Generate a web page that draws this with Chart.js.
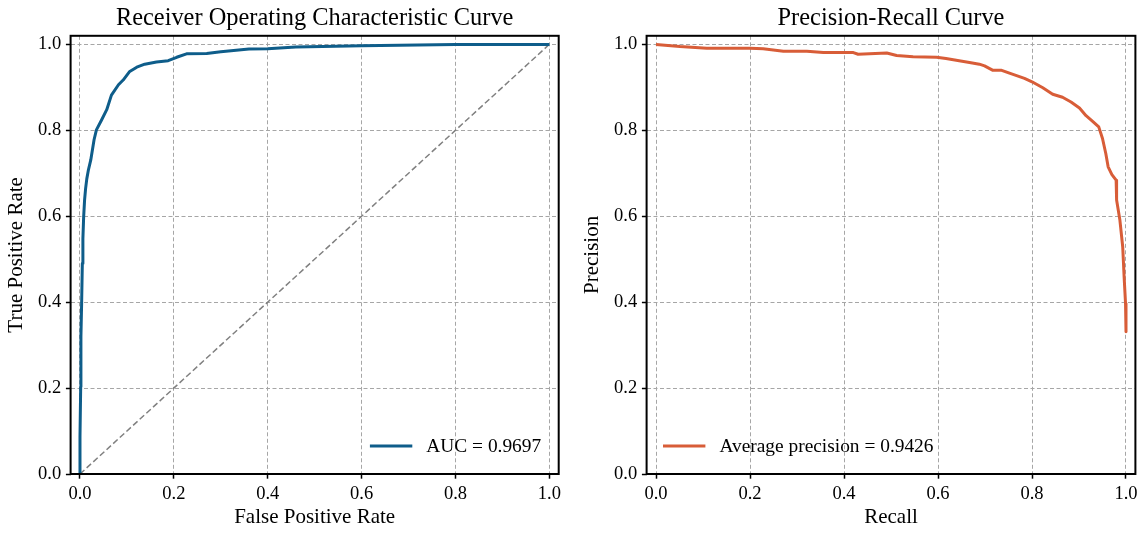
<!DOCTYPE html>
<html>
<head>
<meta charset="utf-8">
<title>ROC and PR curves</title>
<script src="https://cdn.jsdelivr.net/npm/chart.js@4.4.1/dist/chart.umd.min.js"></script>
<style>
  body { margin: 0; background: #ffffff; }
  .panel { position: absolute; top: 0; width: 573px; height: 534px; }
</style>
</head>
<body>
<div class="panel" style="left:0"><canvas id="roc"></canvas></div>
<div class="panel" style="left:573px"><canvas id="pr"></canvas></div>
<script>
// ROC curve
const rocFpr = [0, 0.000, 0.0015, 0.002, 0.0035, 0.005, 0.0062, 0.0078, 0.0098, 0.012, 0.0145, 0.018, 0.023,
  0.030, 0.035, 0.046, 0.057, 0.067, 0.082, 0.092, 0.106, 0.121, 0.138, 0.163, 0.188, 0.206,
  0.227, 0.270, 0.300, 0.360, 0.400, 0.460, 0.600, 0.760, 0.800, 1.000];
const rocTpr = [0, 0.087, 0.203, 0.320, 0.397, 0.490, 0.548, 0.598, 0.638, 0.665, 0.687, 0.708, 0.731,
  0.778, 0.801, 0.824, 0.848, 0.882, 0.906, 0.917, 0.937, 0.947, 0.954, 0.959, 0.962, 0.970,
  0.978, 0.979, 0.983, 0.989, 0.990, 0.994, 0.997, 0.999, 1.000, 1.000];
const rocAuc = 0.9697;
const chanceX = [0, 1];
const chanceY = [0, 1];

// Precision-recall curve
const prRecall = [0.000, 0.051, 0.108, 0.200, 0.228, 0.271, 0.321, 0.356, 0.420, 0.430, 0.491,
  0.512, 0.547, 0.597, 0.617, 0.645, 0.667, 0.688, 0.699, 0.716, 0.734, 0.752, 0.784, 0.800,
  0.823, 0.844, 0.865, 0.883, 0.901, 0.915, 0.929, 0.942, 0.950, 0.957, 0.962, 0.970, 0.979,
  0.980, 0.987, 0.993, 0.996, 0.999, 1.000];
const prPrecision = [1.000, 0.995, 0.991, 0.991, 0.990, 0.984, 0.984, 0.981, 0.981, 0.977, 0.980,
  0.974, 0.971, 0.970, 0.967, 0.962, 0.958, 0.954, 0.950, 0.940, 0.940, 0.933, 0.921, 0.913,
  0.899, 0.884, 0.877, 0.866, 0.852, 0.834, 0.821, 0.808, 0.781, 0.746, 0.715, 0.697, 0.684,
  0.638, 0.591, 0.529, 0.459, 0.397, 0.331];
const avgPrecision = 0.9426;

const tickValues = [0, 0.2, 0.4, 0.6, 0.8, 1.0];

const FONT = "'Liberation Serif', 'Times New Roman', serif";

const toPoints = (xs, ys) => xs.map((x, i) => ({ x: x, y: ys[i] }));

// legend drawn inside the plot, like matplotlib's loc='lower right' / 'lower left'
const insideLegend = {
  id: 'insideLegend',
  afterDatasetsDraw(chart, args, opts) {
    const { ctx, chartArea } = chart;
    const ds = chart.data.datasets[0];
    ctx.save();
    ctx.font = opts.size + 'px ' + FONT;
    const w = ctx.measureText(ds.label).width;
    const y = chartArea.bottom - 28;
    let x0;
    if (opts.side === 'right') {
      x0 = chartArea.right - 17.5 - w - 14 - 42.4;
    } else {
      x0 = chartArea.left + 16.4;
    }
    ctx.strokeStyle = ds.borderColor;
    ctx.lineWidth = ds.borderWidth;
    ctx.beginPath();
    ctx.moveTo(x0, y);
    ctx.lineTo(x0 + 42.4, y);
    ctx.stroke();
    ctx.fillStyle = '#000';
    ctx.textBaseline = 'middle';
    ctx.textAlign = 'left';
    ctx.fillText(ds.label, x0 + 42.4 + 14, y + 0.5);
    ctx.restore();
  }
};

// full black frame round the axes
const spines = {
  id: 'spines',
  afterDraw(chart) {
    const { ctx, chartArea } = chart;
    ctx.save();
    ctx.strokeStyle = '#000';
    ctx.lineWidth = 2;
    ctx.strokeRect(chartArea.left, chartArea.top, chartArea.right - chartArea.left, chartArea.bottom - chartArea.top);
    ctx.restore();
  }
};

function axis(pos, min, max, label, titlePad, fitSize) {
  return {
    type: 'linear',
    position: pos,
    min: min,
    max: max,
    afterBuildTicks: s => { s.ticks = tickValues.map(v => ({ value: v })); },
    afterFit: s => {
      if (pos === 'bottom') s.height = fitSize; else s.width = fitSize;
      s.paddingLeft = 0; s.paddingRight = 0; s.paddingTop = 0; s.paddingBottom = 0;
    },
    ticks: {
      color: '#000',
      font: { family: FONT, size: 18.5 },
      padding: 4.7,
      maxRotation: 0,
      autoSkip: false,
      callback: v => Number(v).toFixed(1)
    },
    grid: {
      color: '#a6a6a6',
      lineWidth: 1,
      drawTicks: true,
      tickLength: 4.7,
      tickColor: '#000',
      tickWidth: 1.5
    },
    border: { display: false, dash: [4, 2.5] },
    title: {
      display: true,
      text: label,
      color: '#000',
      font: { family: FONT, size: 21, lineHeight: 1 },
      padding: titlePad
    }
  };
}

function makeChart(id, datasets, title, xLabel, yLabel, yTitlePad, yWidth, padRight, legendSide) {
  return new Chart(document.getElementById(id), {
    type: 'line',
    data: { datasets: datasets },
    options: {
      responsive: true,
      maintainAspectRatio: false,
      animation: false,
      parsing: true,
      layout: { padding: { left: 0, top: 0, right: padRight, bottom: 0 } },
      scales: {
        x: axis('bottom', -0.02, 1.02, xLabel, { top: 0, bottom: 6 }, 60),
        y: axis('left', 0, 1.02, yLabel, { top: yTitlePad, bottom: 0 }, yWidth)
      },
      plugins: {
        legend: { display: false },
        tooltip: { enabled: false },
        title: {
          display: true,
          text: title,
          color: '#000',
          fullSize: false,
          font: { family: FONT, size: 24.4, weight: 'normal', lineHeight: 1 },
          padding: { top: 6.2, bottom: 5.2 }
        },
        insideLegend: { side: legendSide, size: 19.4 }
      }
    },
    plugins: [insideLegend, spines]
  });
}

makeChart('roc', [
  {
    label: 'AUC = ' + rocAuc.toFixed(4),
    data: toPoints(rocFpr, rocTpr),
    borderColor: '#0e5d8a',
    borderWidth: 3,
    borderJoinStyle: 'round',
    pointRadius: 0,
    tension: 0
  },
  {
    label: 'chance',
    data: toPoints(chanceX, chanceY),
    borderColor: '#808080',
    borderWidth: 1.5,
    borderDash: [6, 3],
    pointRadius: 0
  }
], 'Receiver Operating Characteristic Curve', 'False Positive Rate', 'True Positive Rate', 6.4, 70.6, 14.3, 'right');

makeChart('pr', [
  {
    label: 'Average precision = ' + avgPrecision.toFixed(4),
    data: toPoints(prRecall, prPrecision),
    borderColor: '#d85d38',
    borderWidth: 3,
    borderJoinStyle: 'round',
    pointRadius: 0,
    tension: 0
  }
], 'Precision-Recall Curve', 'Recall', 'Precision', 9.3, 73.6, 10.6, 'left');
</script>
</body>
</html>
